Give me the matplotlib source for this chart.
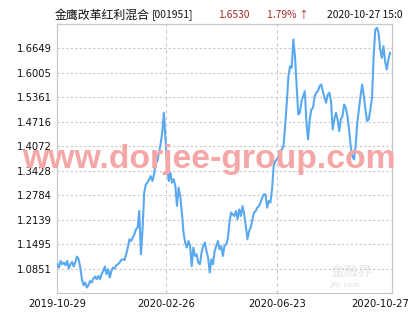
import matplotlib
matplotlib.use("Agg")
import matplotlib.pyplot as plt
import matplotlib.transforms as mtransforms
import numpy as np

# fund name / quote shown in the header
fund_name = "金鹰改革红利混合"
fund_code = "[001951]"
last_nav = "1.6530"
last_chg = "1.79% ↑"
last_time = "2020-10-27 15:0"

# net value, one reading per ~1.7 px of the original chart
nav = [
    1.0964, 1.0877, 1.1051, 1.0964, 1.1009, 1.0938, 1.1051, 1.0851, 1.0964, 1.1025,
    1.0904, 1.1025, 1.1167, 1.1096, 1.0877, 1.0570, 1.0412, 1.0483, 1.0351, 1.0412,
    1.0525, 1.0483, 1.0588, 1.0641, 1.0570, 1.0656, 1.0570, 1.0701, 1.0788, 1.0904,
    1.0701, 1.0833, 1.0614, 1.0788, 1.0877, 1.0851, 1.0938, 1.0964, 1.1009, 1.1077,
    1.1096, 1.1077, 1.1227, 1.1404, 1.1622, 1.1577, 1.1667, 1.1753, 1.1885, 1.1930,
    1.2367, 1.1227, 1.1885, 1.2851, 1.3069, 1.3114,
    1.3201, 1.3287, 1.3156, 1.3332, 1.3640, 1.3682, 1.3903, 1.4121, 1.4429, 1.4955,
    1.4253, 1.3550, 1.3156, 1.3377, 1.3114, 1.3201, 1.3024, 1.2498, 1.2982, 1.2761,
    1.2324, 1.1798, 1.1535, 1.1404, 1.1577, 1.1446, 1.0919, 1.1404, 1.1183, 1.1227,
    1.1009, 1.0964, 1.1272, 1.1446, 1.1535, 1.1314, 1.1140, 1.0746, 1.1096, 1.0964,
    1.1314, 1.1446, 1.1577, 1.1359, 1.1446, 1.1183, 1.1446, 1.1490, 1.1622, 1.2061,
    1.2324, 1.2280, 1.2235, 1.2367, 1.2148, 1.2411, 1.2235, 1.2498, 1.2280, 1.1972,
    1.1622, 1.1840, 1.1930, 1.2148, 1.2324, 1.2367, 1.2456, 1.2498, 1.2588, 1.2719,
    1.2806, 1.2806, 1.2456, 1.2630, 1.2588, 1.2937,
    1.3550, 1.3682, 1.3727, 1.3814, 1.3945, 1.3990, 1.4077, 1.4603, 1.5219, 1.5918,
    1.6181, 1.6139, 1.6884, 1.6445, 1.5655, 1.4911, 1.4955, 1.5261, 1.5392, 1.5524,
    1.4692, 1.4253, 1.4779, 1.5042, 1.5087, 1.5392, 1.5482, 1.5524, 1.5655, 1.5700,
    1.5524, 1.5350, 1.5219, 1.5437, 1.5482, 1.5261, 1.4516, 1.4779, 1.4955, 1.4779,
    1.4471, 1.4779, 1.4866, 1.5174, 1.5087, 1.4866, 1.4516, 1.4077, 1.3814, 1.3727,
    1.4077, 1.4692, 1.5042, 1.5392, 1.5700, 1.5392, 1.5042, 1.4734, 1.4779, 1.5042,
    1.5350, 1.6445, 1.7147, 1.7192, 1.7060, 1.6621, 1.6402, 1.6708, 1.6313, 1.6095,
    1.6358, 1.6530,
]

y_ticks = [1.0851, 1.1495, 1.2139, 1.2784, 1.3428, 1.4072, 1.4716, 1.5361, 1.6005, 1.6649]
date_labels = ["2019-10-29", "2020-02-26", "2020-06-23", "2020-10-27"]
date_frac = [0.0, 0.325, 0.657, 1.0]

cjk = ["Noto Sans CJK SC", "DejaVu Sans"]

fig = plt.figure(figsize=(4.15, 3.30), dpi=100)
ax = fig.add_axes([57 / 415, 1 - 293 / 330, 335 / 415, 269 / 330])

n = len(nav)
x = np.arange(n)
ax.set_xlim(-0.2, n - 1 + 1.2)
ax.set_ylim(1.0207, 1.7293)

# grid
ax.set_yticks(y_ticks)
ax.set_yticklabels([f"{v:.4f}" for v in y_ticks])
xt = [f * (n - 1 + 1.2) - 0.2 for f in date_frac]
ax.set_xticks(xt)
ax.set_xticklabels(date_labels)
ax.grid(axis="y", color="#c8c8c8", linestyle=(0, (2, 2)), linewidth=0.8)
for t in xt[1:3]:
    ax.axvline(t, color="#c8c8c8", linestyle=(0, (3, 3)), linewidth=0.8, zorder=1)

ax.tick_params(length=0, labelsize=7.2, colors="#111111", pad=4)
for s in ax.spines.values():
    s.set_color("#c8c8c8")
    s.set_linewidth(0.9)

# last date label is pushed left to stay inside the image
lbl = ax.get_xticklabels()[-1]
lbl.set_transform(lbl.get_transform() + mtransforms.ScaledTranslation(-0.11, 0, fig.dpi_scale_trans))

# watermarks
fig.text(22 / 415, 1 - 168 / 330, "www.dorjee-group.com", fontsize=24.3,
         family="Liberation Sans", weight="bold", color="#f5a6a6", zorder=0)
ax.text(0.88, 0.08, "金融界", transform=ax.transAxes, fontsize=10, family=cjk,
        weight="bold", color="#ececec", ha="center", va="center", zorder=1)
ax.text(0.86, 0.03, "JRJ.com", transform=ax.transAxes, fontsize=5, style="italic",
        weight="bold", color="#ececec", ha="center", va="center", zorder=1)

ax.plot(x, nav, color="#5aa9f0", linewidth=1.5, zorder=3)

# header
ty = 1 - 15 / 330
fig.text(55 / 415, ty, fund_name, fontsize=8.6, family=cjk, color="#111111", va="center")
fig.text(152 / 415, ty, fund_code, fontsize=7.4, family=cjk, color="#111111", va="center")
fig.text(218 / 415, ty, last_nav, fontsize=7.4, family=cjk, color="#a52a2a", va="center")
fig.text(267 / 415, ty, last_chg, fontsize=7.4, family=cjk, color="#a52a2a", va="center")
fig.text(327 / 415, ty, last_time, fontsize=7.4, family=cjk, color="#111111", va="center")

fig.savefig("out.png", dpi=100)
